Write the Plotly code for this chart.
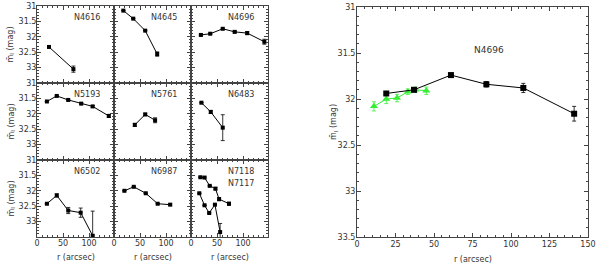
import plotly.graph_objects as go

# ---------------- data ----------------
n4616_r = [23, 70]
n4616_m = [32.33, 33.05]
n4616_e = [0, 0.10]

n4645_r = [18, 37, 60, 83]
n4645_m = [31.15, 31.41, 31.80, 32.56]
n4645_e = [0, 0, 0, 0.07]

n4696_r = [19, 37, 61, 84, 108, 141]
n4696_m = [31.94, 31.90, 31.74, 31.84, 31.88, 32.16]
n4696_e = [0.02, 0.02, 0.02, 0.03, 0.05, 0.08]

n4696g_r = [11, 19, 26, 33, 38, 45]
n4696g_m = [32.08, 32.00, 31.99, 31.92, 31.90, 31.91]
n4696g_e = [0.05, 0.05, 0.04, 0.03, 0.03, 0.04]

n5193_r = [19, 38, 60, 85, 107, 138]
n5193_m = [31.60, 31.42, 31.55, 31.67, 31.76, 32.07]
n5193_e = [0, 0, 0, 0.02, 0.03, 0.05]

n5761_r = [40, 60, 79]
n5761_m = [32.36, 32.02, 32.21]
n5761_e = [0.05, 0.04, 0.08]

n6483_r = [20, 38, 61]
n6483_m = [31.64, 31.94, 32.45]
n6483_e = [0, 0.05, 0.42]

n6502_r = [19, 38, 60, 84, 107]
n6502_m = [32.42, 32.15, 32.64, 32.71, 33.46]
n6502_e = [0, 0.05, 0.10, 0.15, 0.80]

n6987_r = [20, 38, 61, 84, 108]
n6987_m = [32.00, 31.87, 32.08, 32.42, 32.45]
n6987_e = [0, 0, 0, 0, 0.03]

n7118_r = [18, 26, 36, 47, 54, 73]
n7118_m = [31.56, 31.57, 31.84, 31.93, 32.27, 32.42]
n7118_e = [0, 0.02, 0, 0.04, 0.05, 0.05]

n7117_r = [16, 26, 35, 46, 56]
n7117_m = [32.08, 32.47, 32.72, 32.45, 33.34]
n7117_e = [0, 0, 0, 0, 0.28]

panel_labels = ["N4616", "N4645", "N4696", "N5193", "N5761", "N6483",
                "N6502", "N6987", "N7118"]
small_yticks = [31, 31.5, 32, 32.5, 33]
small_xticks = [0, 50, 100]
big_yticks = [31, 31.5, 32, 32.5, 33, 33.5]
big_xticks = [0, 25, 50, 75, 100, 125, 150]

# ---------------- layout helpers ----------------
W, H = 600, 267
FONT = "DejaVu Sans"
TXT = "#333333"
FS = 8
col_px = [(37, 114), (114, 191), (191, 268)]
row_px = [(6, 83), (83, 160), (160, 237)]

def px(x):
    return x / W

def py(y):
    return 1 - y / H

def xd(a, b):
    return [px(a), px(b)]

def yd(top, bot):
    return [py(bot), py(top)]

fig = go.Figure()
layout = {}

def add_series(idx, r, m, e, color="black", symbol="square", size=4, lw=1):
    fig.add_trace(go.Scatter(
        x=r, y=m, mode="lines+markers",
        line=dict(color=color, width=lw),
        marker=dict(symbol=symbol, size=size, color=color),
        error_y=dict(type="data", array=e, visible=True, color=color,
                     thickness=0.8, width=2),
        xaxis="x" + ("" if idx == 1 else str(idx)),
        yaxis="y" + ("" if idx == 1 else str(idx)),
        showlegend=False, cliponaxis=True,
    ))

small_data = [
    [(n4616_r, n4616_m, n4616_e)],
    [(n4645_r, n4645_m, n4645_e)],
    [(n4696_r, n4696_m, n4696_e)],
    [(n5193_r, n5193_m, n5193_e)],
    [(n5761_r, n5761_m, n5761_e)],
    [(n6483_r, n6483_m, n6483_e)],
    [(n6502_r, n6502_m, n6502_e)],
    [(n6987_r, n6987_m, n6987_e)],
    [(n7118_r, n7118_m, n7118_e), (n7117_r, n7117_m, n7117_e)],
]

axis_common = dict(
    showline=True, linecolor="#444", linewidth=1, mirror="allticks",
    ticks="inside", ticklen=4, tickcolor="#444", showgrid=False,
    zeroline=False, tickfont=dict(family=FONT, size=FS, color=TXT),
    automargin=False,
)

annotations = []
for k in range(9):
    idx = k + 1
    row, col = divmod(k, 3)
    xs = "" if idx == 1 else str(idx)
    layout["xaxis" + xs] = dict(
        axis_common, domain=xd(*col_px[col]), range=[0, 148],
        anchor="y" + xs, tickvals=small_xticks,
        showticklabels=(row == 2), ticklabelstandoff=-2,
        minor=dict(ticks="inside", ticklen=2, dtick=10, tickcolor="#444"),
    )
    layout["yaxis" + xs] = dict(
        axis_common, domain=yd(*row_px[row]), range=[33.5, 31],
        anchor="x" + xs, tickvals=small_yticks,
        showticklabels=(col == 0), ticklabelstandoff=-2,
        minor=dict(ticks="inside", ticklen=2, dtick=0.1, tickcolor="#444"),
    )
    for (r, m, e) in small_data[k]:
        add_series(idx, r, m, e, size=4)
    annotations.append(dict(
        text=panel_labels[k], x=96, y=31.38,
        xref="x" + xs, yref="y" + xs, showarrow=False,
        font=dict(family=FONT, size=FS, color=TXT),
    ))

annotations.append(dict(text="N7117", x=96, y=31.76, xref="x9", yref="y9",
                        showarrow=False, font=dict(family=FONT, size=FS, color=TXT)))

# big panel
layout["xaxis10"] = dict(
    axis_common, domain=xd(357, 588), range=[0, 150], anchor="y10",
    tickvals=big_xticks, ticklabelstandoff=-1,
    minor=dict(ticks="inside", ticklen=2, dtick=5, tickcolor="#444"),
)
layout["yaxis10"] = dict(
    axis_common, domain=yd(7, 237), range=[33.5, 31], anchor="x10",
    tickvals=big_yticks, ticklabelstandoff=-1,
    minor=dict(ticks="inside", ticklen=2, dtick=0.1, tickcolor="#444"),
)
add_series(10, n4696g_r, n4696g_m, n4696g_e, color="#33ee33",
           symbol="triangle-up", size=7)
add_series(10, n4696_r, n4696_m, n4696_e, size=6)
annotations.append(dict(text="N4696", x=86, y=31.47, xref="x10", yref="y10",
                        showarrow=False, font=dict(family=FONT, size=9, color=TXT)))

# axis titles
ytitle = "m\u0304<sub>I</sub> (mag)"
for (top, bot) in row_px:
    annotations.append(dict(text=ytitle, textangle=-90, x=px(11),
                            y=py((top + bot) / 2), xref="paper", yref="paper",
                            xanchor="center", yanchor="middle",
                            showarrow=False,
                            font=dict(family=FONT, size=FS, color=TXT)))
annotations.append(dict(text=ytitle, textangle=-90, x=px(334),
                        y=py(122), xref="paper", yref="paper",
                        xanchor="center", yanchor="middle",
                        showarrow=False, font=dict(family=FONT, size=FS, color=TXT)))
for (a, b) in col_px:
    annotations.append(dict(text="r (arcsec)", x=px((a + b) / 2), y=py(257),
                            xref="paper", yref="paper", showarrow=False,
                            xanchor="center", yanchor="middle",
                            font=dict(family=FONT, size=FS, color=TXT)))
annotations.append(dict(text="r (arcsec)", x=px((357 + 588) / 2), y=py(259),
                        xref="paper", yref="paper", showarrow=False,
                        xanchor="center", yanchor="middle",
                        font=dict(family=FONT, size=FS, color=TXT)))

fig.update_layout(
    width=W, height=H, margin=dict(l=0, r=0, t=0, b=0, autoexpand=False),
    paper_bgcolor="white", plot_bgcolor="white",
    annotations=annotations, **layout,
)

# remove the browser's default 8px body margin so the figure fills the window
fig.write_html("out.html",
               config={"displayModeBar": False},
               post_script="document.body.style.margin='0';"
                           "document.body.style.overflow='hidden';")
